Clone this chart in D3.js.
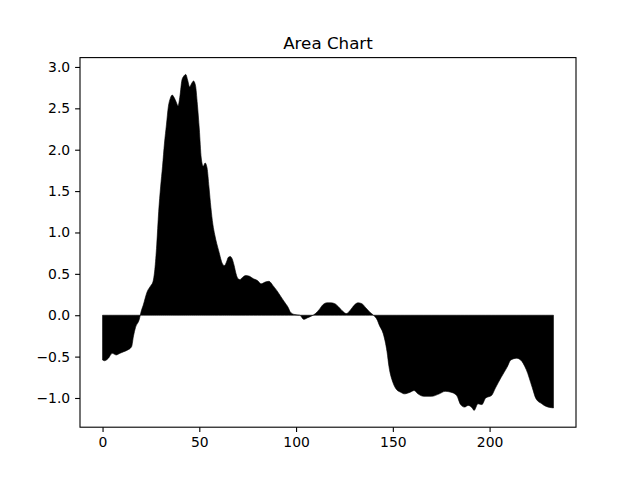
<!DOCTYPE html>
<html>
<head>
<meta charset="utf-8">
<script src="https://cdn.jsdelivr.net/npm/d3@7"></script>
<style>
  body { margin: 0; background: #fff; }
  svg { font-family: "DejaVu Sans", sans-serif; }
</style>
</head>
<body>
<div id="chart"></div>
<script>
// data
var xs = [0, 1, 3, 5, 6, 7, 9, 11, 13, 15, 16, 17, 19, 20, 21, 23, 25, 26, 27, 28,
          29, 30, 31, 32, 33, 34, 35, 36, 37, 38, 39, 40, 41, 42, 43, 44, 45, 46, 47, 48,
          49, 50, 51, 52, 53, 54, 55, 56, 57, 58, 60, 62, 63, 64, 65, 66, 67, 68, 69, 70,
          71, 72, 74, 76, 78, 80, 82, 84, 86, 88, 90, 92, 94, 96, 97, 99, 102, 104, 106, 108,
          110, 112, 114, 116, 118, 120, 122, 124, 126, 128, 130, 132, 134, 136, 138, 140, 142, 143, 145, 147,
          148, 150, 152, 154, 156, 159, 161, 163, 166, 170, 174, 177, 180, 183, 185, 187, 189, 191, 192, 194,
          196, 198, 201, 203, 206, 209, 211, 214, 216, 219, 222, 224, 227, 229, 233];
var ys = [-0.54, -0.55, -0.52, -0.46, -0.47, -0.48, -0.46, -0.44, -0.42, -0.38, -0.25, -0.15, -0.05, 0.05, 0.12, 0.28, 0.36, 0.40, 0.55, 0.85,
          1.25, 1.55, 1.80, 2.08, 2.30, 2.52, 2.62, 2.66, 2.63, 2.58, 2.53, 2.65, 2.84, 2.89, 2.91, 2.84, 2.76, 2.80, 2.83, 2.78,
          2.55, 2.25, 1.90, 1.80, 1.84, 1.78, 1.55, 1.30, 1.10, 0.97, 0.78, 0.62, 0.60, 0.64, 0.70, 0.71, 0.68, 0.60, 0.50, 0.44,
          0.43, 0.45, 0.48, 0.47, 0.44, 0.42, 0.38, 0.40, 0.41, 0.36, 0.30, 0.23, 0.16, 0.09, 0.04, 0.01, 0.0, -0.05, -0.03, -0.01,
          0.02, 0.07, 0.13, 0.15, 0.15, 0.14, 0.10, 0.05, 0.02, 0.06, 0.12, 0.15, 0.14, 0.09, 0.04, 0.0, -0.06, -0.12, -0.22, -0.44,
          -0.62, -0.81, -0.90, -0.93, -0.95, -0.93, -0.91, -0.95, -0.98, -0.98, -0.95, -0.92, -0.93, -0.97, -1.08, -1.11, -1.09, -1.12, -1.15, -1.07,
          -1.08, -1.00, -0.97, -0.88, -0.75, -0.63, -0.54, -0.52, -0.54, -0.66, -0.87, -1.01, -1.07, -1.10, -1.12];
var xTicks = [0, 50, 100, 150, 200];
var yTicks = [-1.0, -0.5, 0.0, 0.5, 1.0, 1.5, 2.0, 2.5, 3.0];
var chartTitle = "Area Chart";

var W = 640, H = 480;
var m = {left: 80, right: 64, top: 57.6, bottom: 52.8};
var iw = W - m.left - m.right, ih = H - m.top - m.bottom;

var svg = d3.select("#chart").append("svg").attr("width", W).attr("height", H);
var g = svg.append("g").attr("transform", "translate(" + m.left + "," + m.top + ")");

// matplotlib style 5% margins
var xmin = d3.min(xs), xmax = d3.max(xs);
var ymin = Math.min(0, d3.min(ys)), ymax = Math.max(0, d3.max(ys));
var xpad = (xmax - xmin) * 0.05, ypad = (ymax - ymin) * 0.05;
var x = d3.scaleLinear().domain([xmin - xpad, xmax + xpad]).range([0, iw]);
var y = d3.scaleLinear().domain([ymin - ypad, ymax + ypad]).range([ih, 0]);

var pts = xs.map(function(v, i){ return [v, ys[i]]; });

var area = d3.area()
	.x(function(d){ return x(d[0]); })
	.y0(y(0))
	.y1(function(d){ return y(d[1]); })
	.curve(d3.curveMonotoneX);

g.append("path").datum(pts)
	.attr("d", area)
	.attr("fill", "#000")
	.attr("stroke", "#000")
	.attr("stroke-width", 0.6);

var fmt = function(v){ return d3.format(".1f")(v).replace("-", "\u2212"); };

var xAxis = g.append("g").attr("transform", "translate(0," + ih + ")")
	.call(d3.axisBottom(x).tickValues(xTicks).tickSize(4.9).tickPadding(4.9).tickFormat(d3.format("d")));
var yAxis = g.append("g")
	.call(d3.axisLeft(y).tickValues(yTicks).tickSize(4.9).tickPadding(4.9).tickFormat(fmt));

[xAxis, yAxis].forEach(function(a){
	a.select(".domain").remove();
	a.selectAll(".tick line").attr("stroke", "#000").attr("stroke-width", 1.1);
	a.selectAll(".tick text").attr("fill", "#000").style("font-size", "13.9px").style("font-family", "DejaVu Sans");
});

// frame
g.append("rect").attr("x", 0).attr("y", 0).attr("width", iw).attr("height", ih)
	.attr("fill", "none").attr("stroke", "#000").attr("stroke-width", 1.1);

svg.append("text")
	.attr("x", m.left + iw / 2).attr("y", m.top - 8.5)
	.attr("text-anchor", "middle")
	.style("font-size", "16.7px")
	.text(chartTitle);
</script>
</body>
</html>
